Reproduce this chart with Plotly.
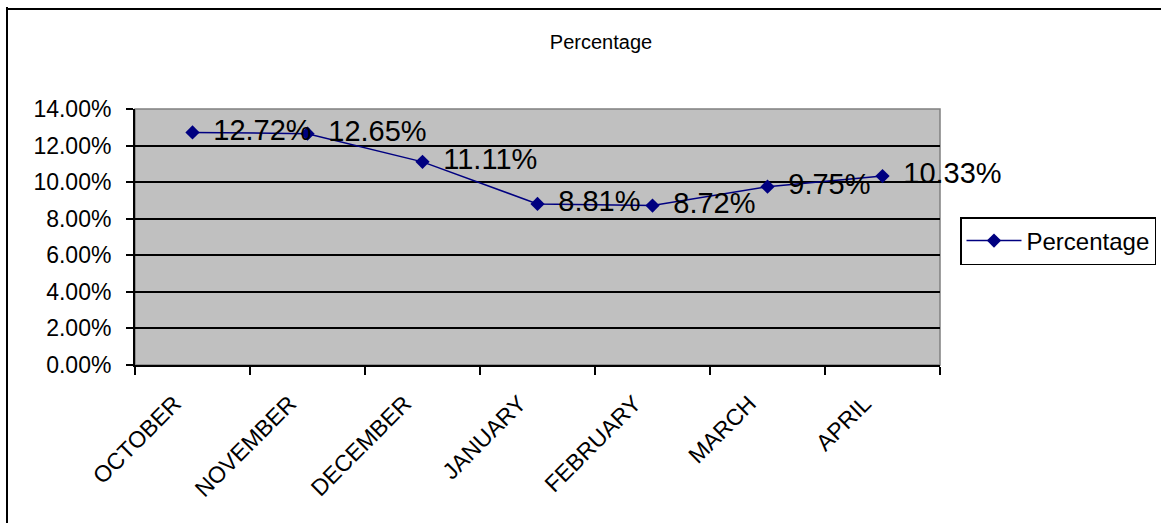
import plotly.graph_objects as go

months = ["OCTOBER", "NOVEMBER", "DECEMBER", "JANUARY", "FEBRUARY", "MARCH", "APRIL"]
percentage = [0.1272, 0.1265, 0.1111, 0.0881, 0.0872, 0.0975, 0.1033]
y_ticks = [0, 0.02, 0.04, 0.06, 0.08, 0.10, 0.12, 0.14]

W, H = 1161, 523
L, R, T, B = 135, 221, 109, 158
pw, ph = W - L - R, H - T - B

def px_x(x):
    return (x - L) / pw

def px_y(y):
    return (H - B - y) / ph

navy = "#000080"
font = "Liberation Sans, Arial, sans-serif"
gap = "\u00a0\u2006"  # small gap between marker and its value label

fig = go.Figure()
fig.add_trace(go.Scatter(
    x=months,
    y=percentage,
    mode="lines+markers+text",
    name="Percentage",
    line=dict(color=navy, width=1.5),
    marker=dict(symbol="diamond", size=11, color=navy),
    text=[gap + f"{v:.2%}" for v in percentage],
    textposition="middle right",
    textfont=dict(family=font, size=29, color="black"),
    cliponaxis=False,
))

shapes = [
    # grey frame of the plot area
    dict(type="rect", xref="paper", yref="paper", x0=0, x1=1, y0=0, y1=1,
         line=dict(color="#808080", width=1.5), layer="below"),
    # outer chart frame (left and top edges)
    dict(type="line", xref="paper", yref="paper",
         x0=px_x(7), x1=px_x(7), y0=px_y(7), y1=px_y(H + 5),
         line=dict(color="black", width=2)),
    dict(type="line", xref="paper", yref="paper",
         x0=px_x(7), x1=px_x(W + 5), y0=px_y(9), y1=px_y(9),
         line=dict(color="black", width=2)),
]

fig.update_layout(
    width=W, height=H,
    margin=dict(l=L, r=R, t=T, b=B, autoexpand=False),
    paper_bgcolor="white",
    plot_bgcolor="#C0C0C0",
    font=dict(family=font, color="black"),
    title=dict(text="Percentage", x=601 / W, xanchor="center", xref="container",
               y=1 - 42 / H, yanchor="middle", yref="container",
               font=dict(family=font, size=20, color="black")),
    showlegend=True,
    legend=dict(x=px_x(960), y=px_y(217), xanchor="left", yanchor="top",
                bordercolor="black", borderwidth=1.5, bgcolor="white",
                font=dict(family=font, size=24, color="black"),
                itemwidth=55),
    shapes=shapes,
)

fig.update_xaxes(
    type="category",
    range=[-0.5, 6.5],
    tickson="boundaries",
    ticks="outside", ticklen=8, tickwidth=1.5, tickcolor="black",
    showline=True, linecolor="black", linewidth=2,
    showgrid=False,
    tickangle=-45,
    ticklabelstandoff=14,
    ticklabelshift=-18,
    tickfont=dict(family=font, size=23, color="black"),
    automargin=False,
)

fig.update_yaxes(
    range=[0, 0.14],
    tickvals=y_ticks,
    tickformat=".2%",
    ticks="outside", ticklen=7, tickwidth=1.5, tickcolor="black",
    showline=True, linecolor="black", linewidth=2,
    showgrid=True, gridcolor="black", gridwidth=1.5,
    zeroline=False,
    ticklabelstandoff=10,
    tickfont=dict(family=font, size=23, color="black"),
    automargin=False,
)

fig.write_html("out.html")
